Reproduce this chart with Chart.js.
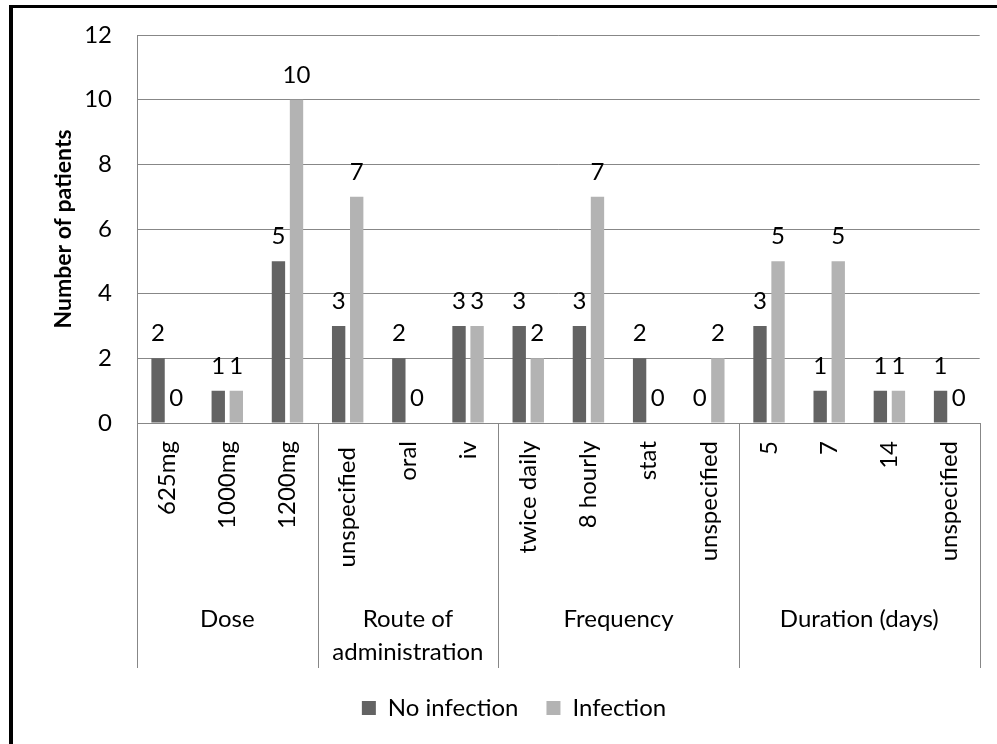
<!DOCTYPE html>
<html>
<head>
<meta charset="utf-8">
<script src="https://cdn.jsdelivr.net/npm/chart.js@4.4.1/dist/chart.umd.min.js"></script>
<style>
  html, body { margin: 0; padding: 0; background: #fff; }
  body { width: 997px; height: 744px; overflow: hidden; position: relative; }
  .frame { position: absolute; left: 9px; top: 5px; width: 1100px; height: 900px; border-left: 4px solid #000; border-top: 3px solid #000; }
  #wrap { position: absolute; left: 0; top: 0; width: 997px; height: 744px; }
</style>
</head>
<body>
<div class="frame"></div>
<div id="wrap"><canvas id="myChart"></canvas></div>
<script>
// data
const categories = ['625mg', '1000mg', '1200mg', 'unspecified ', 'oral', 'iv', 'twice daily', '8 hourly', 'stat', 'unspecified', '5', '7', '14', 'unspecified'];
const groupNames = ['Dose', ['Route of', 'administration'], 'Frequency', 'Duration (days)'];
const groupSizes = [3, 3, 4, 4];
const noInfection = [2, 1, 5, 3, 2, 3, 3, 3, 2, 0, 3, 1, 1, 1];
const infection = [0, 1, 10, 7, 0, 3, 2, 7, 0, 2, 5, 5, 1, 0];
const yTicks = [0, 2, 4, 6, 8, 10, 12];

const FONT = 'Lato';
const FS = 24;
const gridColor = '#878787';

// value labels above every bar
const valueLabels = {
  id: 'valueLabels',
  afterDatasetsDraw(chart) {
    const ctx = chart.ctx;
    ctx.save();
    ctx.font = `${FS}px ${FONT}`;
    ctx.fillStyle = '#000';
    ctx.textAlign = 'center';
    ctx.textBaseline = 'alphabetic';
    chart.data.datasets.forEach((ds, i) => {
      chart.getDatasetMeta(i).data.forEach((bar, j) => {
        ctx.fillText(String(ds.data[j]), bar.x, bar.y - 17);
      });
    });
    ctx.restore();
  }
};

// second level of the category axis (group names + dividers)
const groupAxis = {
  id: 'groupAxis',
  afterLayout(chart) {
    // excel puts the legend a bit right of centre
    chart.legend.left += 24;
    chart.legend.right += 24;
  },
  afterDraw(chart) {
    const x = chart.scales.x;
    const ctx = chart.ctx;
    const half = (x.getPixelForValue(1) - x.getPixelForValue(0)) / 2;
    ctx.save();
    ctx.strokeStyle = gridColor;
    ctx.lineWidth = 1;
    ctx.font = `${FS}px ${FONT}`;
    ctx.fillStyle = '#000';
    ctx.textAlign = 'center';
    ctx.textBaseline = 'alphabetic';

    let start = 0;
    const edges = [x.getPixelForValue(0) - half];
    groupSizes.forEach((n, g) => {
      const left = x.getPixelForValue(start) - half;
      const right = x.getPixelForValue(start + n - 1) + half;
      edges.push(right);
      const lines = [].concat(groupNames[g]);
      lines.forEach((t, k) => {
        ctx.fillText(t, (left + right) / 2, x.top + 204 + k * 33);
      });
      start += n;
    });

    edges.forEach(px => {
      const xx = Math.round(px) + 0.5;
      ctx.beginPath();
      ctx.moveTo(xx, x.top);
      ctx.lineTo(xx, x.bottom);
      ctx.stroke();
    });
    ctx.restore();
  }
};

new Chart(document.getElementById('myChart'), {
  type: 'bar',
  data: {
    labels: categories,
    datasets: [{
      label: 'No infection',
      data: noInfection,
      backgroundColor: '#636363',
      categoryPercentage: 0.6,
      barPercentage: 0.74,
    }, {
      label: 'Infection',
      data: infection,
      backgroundColor: '#b3b3b3',
      categoryPercentage: 0.6,
      barPercentage: 0.74,
    }]
  },
  options: {
    responsive: true,
    maintainAspectRatio: false,
    devicePixelRatio: 1,
    animation: false,
    layout: {
      padding: { left: 0, right: 17, top: 35, bottom: 14 }
    },
    plugins: {
      legend: {
        position: 'bottom',
        labels: {
          boxWidth: 14,
          boxHeight: 14,
          padding: 28,
          color: '#000',
          font: { family: FONT, size: FS },
        }
      },
      tooltip: { enabled: false }
    },
    scales: {
      x: {
        grid: { display: false, drawTicks: false },
        border: { display: true, color: gridColor, width: 1 },
        ticks: {
          autoSkip: false,
          maxRotation: 90,
          minRotation: 90,
          padding: 18,
          color: '#000',
          font: { family: FONT, size: FS },
        },
        afterFit(scale) { scale.height = 245; }
      },
      y: {
        min: 0,
        max: 12,
        afterBuildTicks(scale) { scale.ticks = yTicks.map(v => ({ value: v })); },
        grid: { color: gridColor, drawTicks: false },
        border: { display: true, color: gridColor, width: 1 },
        ticks: {
          padding: 25,
          color: '#000',
          font: { family: FONT, size: FS },
        },
        title: {
          display: true,
          text: 'Number of patients',
          color: '#000',
          font: { family: FONT, size: 23, weight: 'bold' },
          padding: { top: 50, bottom: 0 }
        },
        afterFit(scale) {
          scale.width = 137;
          scale.paddingTop = 0;
          scale.paddingBottom = 0;
        }
      }
    }
  },
  plugins: [valueLabels, groupAxis]
});
</script>
</body>
</html>
